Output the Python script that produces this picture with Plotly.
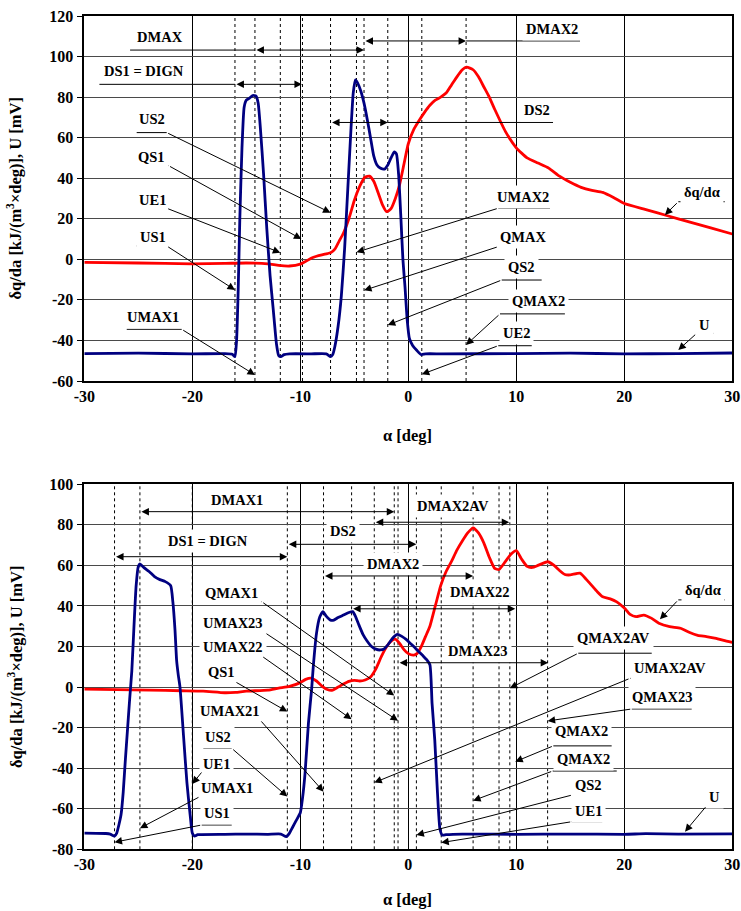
import plotly.graph_objects as go

# ---------------- data ----------------
top_red_x = [-30, -25, -20, -17, -15, -13, -12, -11, -10, -9.5, -9, -8.5, -8, -7.5, -7.2, -6.8, -6.4, -6, -5.5, -5,
             -4.5, -4, -3.6, -3.2, -2.8, -2.4, -2.0, -1.6, -1.2, -0.8, -0.4, 0, 0.5, 1, 1.5, 2, 2.5, 3, 3.5, 4,
             4.5, 5, 5.4, 6, 6.5, 7, 7.5, 8, 9, 10, 11, 12, 13, 14, 15, 16, 17, 18, 19, 20, 22, 24, 26, 28, 30]
top_red_y = [-1.5, -1.8, -2.2, -2.0, -1.8, -2.2, -3.0, -3.3, -2.4, -1, 0.5, 1.5, 2.2, 2.8, 3.2, 5, 9, 13, 20, 29,
             36, 40.5, 41, 38.5, 33, 27, 23.5, 25, 30, 37, 47, 57, 64, 68.5, 72.5, 76, 78.5, 80, 82, 86,
             90, 93.5, 94.8, 93.5, 90, 85, 80, 74, 63, 55, 50, 47.5, 45, 41, 38, 35.5, 34, 33, 30.5, 27.5, 24.5, 21.5, 18.5, 15.5, 12.5]

top_blue_x = [-30, -25, -20, -17, -16.3, -16.05, -15.9, -15.75, -15.6, -15.4, -15.2, -15.0, -14.7, -14.4, -14.1, -13.9,
              -13.7, -13.4, -13.1, -12.8, -12.5, -12.2, -12.0, -11.8, -11.5, -11, -9, -7.6, -7.2, -7.0, -6.8, -6.5,
              -6.2, -5.9, -5.6, -5.3, -5.1, -4.9, -4.7, -4.4, -4.1, -3.8, -3.5, -3.2, -2.9, -2.6, -2.2, -1.9, -1.6,
              -1.3, -1.1, -0.9, -0.7, -0.5, -0.3, -0.1, 0.1, 0.4, 0.8, 1.2, 1.6, 3, 10, 15, 20, 25, 30]
top_blue_y = [-46.5, -46.3, -46.6, -46.5, -46.8, -48, -40, -15, 20, 55, 75, 78.5, 79.5, 80.8, 80.5, 77,
              65, 42, 15, -8, -25, -42, -47.5, -48, -47, -46.6, -46.6, -46.6, -48, -47, -43, -33,
              -18, 5, 35, 65, 82, 88.5, 87, 83, 77, 69, 60, 51, 46.5, 45, 44.5, 46.5, 50,
              53, 52, 42, 22, 0, -14, -30, -39, -42.5, -45, -47, -46.6, -46.6, -46.5, -46.3, -46.6, -46.5, -46.2]

bot_red_x = [-30, -27, -24, -21, -19, -17, -16, -15, -13, -12, -11, -10, -9.5, -9.0, -8.5, -8, -7.5, -7, -6.5, -6,
             -5.5, -5, -4.5, -4, -3.5, -3.0, -2.5, -2, -1.5, -1.2, -0.8, -0.4, 0, 0.5, 0.8, 1.2, 1.6, 2.0, 2.5, 3.0,
             3.5, 4, 4.5, 5, 5.5, 6, 6.5, 7, 7.5, 8, 8.4, 9, 9.5, 10, 10.5, 11, 11.5, 12, 12.9, 13.5, 14, 14.5, 15,
             15.9, 16.5, 17, 17.5, 18, 18.7, 19.3, 20, 20.5, 21.1, 21.8, 22.5, 23.2, 24.2, 25.2, 26, 26.8, 27.6,
             28.5, 29.2, 30]
bot_red_y = [-1, -1.3, -1.5, -1.8, -2, -2.8, -2.6, -2, -1.5, -0.5, 0.3, 2.2, 3.8, 4.4, 3, 0.5, -1.2, -1.5, 0, 1.5,
             2.8, 3.3, 3, 3.5, 5, 9, 15, 20, 23, 23.6, 21.5, 18.5, 16.5, 15.8, 16.5, 20, 25, 30, 40, 50,
             57, 62, 67.5, 72, 76, 78.5, 76, 71, 64, 58.5, 58, 62, 65.5, 67.3, 63, 59.5, 59, 60, 61.8, 60, 57.5, 55.5, 55.3,
             56.2, 53, 50, 47, 44.5, 43.5, 42, 39, 36, 34.7, 35.5, 34, 31.5, 29.8, 29, 27, 25.5, 24.9,
             24, 23, 22]

bot_blue_x = [-30, -28, -27.6, -27.2, -27.0, -26.8, -26.6, -26.4, -26.2, -26.0, -25.8, -25.6, -25.4, -25.2, -25.0,
              -24.85, -24.5, -24, -23.5, -23.0, -22.5, -22.0, -21.8, -21.6, -21.45, -21.3, -21.14, -20.8, -20.5,
              -20.2, -20.0, -19.8, -19.5, -17, -15, -13, -11.8, -11.3, -11.0, -10.7, -10.4, -10.0, -9.8, -9.56,
              -9.25, -8.95, -8.8, -8.5, -8.2, -7.9, -7.6, -7.2, -6.9, -6.5, -6.0, -5.5, -5.15, -4.9, -4.6, -4.2,
              -3.85, -3.4, -3.0, -2.6, -2.2, -1.8, -1.4, -1.0, -0.6, -0.2, 0.2, 0.6, 1.0, 1.4, 1.7, 2.0, 2.2,
              2.45, 2.7, 2.93, 3.15, 3.5, 5, 10, 15, 20, 22, 25, 30]
bot_blue_y = [-72, -72.2, -72.5, -73.5, -72, -68, -63, -52, -36, -21, -6, 8, 30, 50, 59.5,
              60.7, 59, 57, 54.5, 53, 52, 50, 42, 28, 13, 6, 0, -25, -47,
              -63, -72, -73.5, -72.8, -72.6, -72.5, -72.6, -72.5, -73.8, -72, -69, -66, -62, -55, -42.5,
              -18, -1, 10, 26.5, 34.5, 37.2, 35, 33, 33, 34.3, 35.5, 36.8, 37.2, 35, 31, 26,
              23, 20, 18.7, 18.3, 19, 21.5, 24.5, 26, 25, 23.5, 21.5, 19.5, 17.3, 15.2, 13.5, 11, -8,
              -26, -52, -70, -73, -72.8, -72.5, -72.6, -72.5, -72.6, -72.3, -72.5, -72.4]

x_ticks = [-30, -20, -10, 0, 10, 20, 30]
x_tick_labels = ["-30", "-20", "-10", "0", "10", "20", "30"]
top_y_ticks = [-60, -40, -20, 0, 20, 40, 60, 80, 100, 120]
top_y_tick_labels = ["-60", "-40", "-20", "0", "20", "40", "60", "80", "100", "120"]
bot_y_ticks = [-80, -60, -40, -20, 0, 20, 40, 60, 80, 100]
bot_y_tick_labels = ["-80", "-60", "-40", "-20", "0", "20", "40", "60", "80", "100"]

top_dotted_x = [-16.05, -14.2, -11.85, -9.8, -7.2, -4.8, -4.1, -1.9, 1.25, 5.35]
bot_dotted_x = [-27.2, -24.85, -20.0, -11.2, -7.85, -5.25, -3.15, -1.3, -0.95, 0.75, 3.05, 6.0, 8.4, 9.4, 12.9]

# dimension lines: label, label x, label y, x start, x end, line y, extension end (or None)
top_dims = [
    ("DMAX", -23.0, 109.8, -14.2, -4.1, 103.2, -25.76),
    ("DMAX2", 13.3, 113.4, -4.1, 5.35, 107.7, 15.9),
    ("DS1 = DIGN", -24.5, 92.9, -16.05, -9.85, 86.3, -28.6),
    ("DS2", 11.9, 73.6, -7.2, -1.9, 67.5, 13.4),
]
bot_dims = [
    ("DMAX1", -15.9, 92.3, -24.85, -1.3, 86.5, None),
    ("DMAX2AV", 4.1, 89.3, -3.15, 9.35, 81.3, None),
    ("DS2", -6.02, 77.0, -11.2, 0.75, 70.4, None),
    ("DS1 = DIGN", -18.52, 72.0, -27.2, -11.2, 64.3, None),
    ("DMAX2", -1.39, 60.7, -7.85, 6.0, 54.8, None),
    ("DMAX22", 6.64, 46.9, -5.25, 9.9, 38.6, None),
    ("DMAX23", 6.41, 17.8, -0.95, 12.95, 12.0, None),
]

# leader labels: label, text x, text y, underline x0, underline x1, underline y, leader side, tip x, tip y
top_leaders = [
    ("US2", -23.76, 69.1, -25.15, -22.37, 62.5, "r", -7.2, 23.0),
    ("QS1", -23.76, 50.6, -25.15, -22.2, 46.2, "r", -9.9, 10.0),
    ("UE1", -23.64, 29.3, -25.15, -22.37, 25.2, "r", -11.85, 3.3),
    ("US1", -23.64, 11.2, -25.15, -22.37, 6.6, "r", -16.05, -15.1),
    ("UMAX1", -23.64, -28.3, -26.07, -20.98, -34.5, "r", -14.2, -57.0),
    ("UMAX2", 10.65, 30.6, 8.33, 13.12, 25.2, "l", -4.8, 3.5),
    ("QMAX", 10.65, 11.2, 8.33, 12.96, 6.25, "l", -4.1, -15.3),
    ("QS2", 10.5, -3.9, 8.65, 12.35, -10.2, "l", -1.9, -32.4),
    ("QMAX2", 12.04, -20.4, 8.49, 14.5, -26.9, "l", 5.35, -42.2),
    ("UE2", 10.03, -36.2, 8.33, 11.43, -42.6, "l", 1.25, -56.7),
    ("δq/dα", 27.17, 33.4, 25.0, 29.3, 28.4, "l", 23.76, 21.9),
    ("U", 27.47, -32.4, 26.7, 28.24, -36.5, "l", 25.0, -44.7),
]
bot_leaders = [
    ("QMAX1", -16.35, 46.5, -18.92, -13.57, 42.1, "r", -1.3, -4.2),
    ("UMAX23", -16.2, 31.5, -18.82, -13.27, 26.8, "r", -0.95, -16.6),
    ("UMAX22", -16.2, 19.6, -18.98, -13.57, 15.3, "r", -5.25, -15.9),
    ("QS1", -17.28, 7.3, -18.82, -16.05, 2.7, "r", -11.2, -12.1),
    ("UMAX21", -16.51, -11.8, -19.28, -13.73, -16.2, "r", -7.85, -51.6),
    ("US2", -17.6, -24.8, -18.98, -16.35, -30.2, "r", -11.2, -54.0),
    ("UE1", -17.74, -37.9, -19.04, -16.35, -41.4, "l", -20.0, -47.8),
    ("UMAX1", -16.81, -49.9, -19.29, -14.5, -54.0, "l", -24.85, -69.6),
    ("US1", -17.74, -62.2, -19.13, -16.35, -68.0, "l", -27.2, -76.5),
    ("QMAX2AV", 18.98, 24.1, 15.74, 22.54, 16.7, "l", 9.4, -0.6),
    ("UMAX2AV", 24.23, 9.3, 20.53, 27.63, 4.3, "l", -3.15, -47.1),
    ("QMAX23", 23.46, -4.7, 20.69, 26.24, -10.8, "l", 12.9, -16.7),
    ("QMAX2", 16.06, -21.5, 13.43, 18.83, -29.0, "l", 9.9, -36.8),
    ("QMAX2", 16.2, -35.5, 13.37, 19.3, -41.4, "l", 6.0, -56.0),
    ("QS2", 16.67, -48.3, 15.19, 17.96, -53.2, "l", 0.75, -72.9),
    ("UE1", 16.67, -60.9, 15.13, 17.96, -66.4, "l", 3.05, -76.7),
    ("δq/dα", 27.31, 47.9, 25.0, 29.32, 43.0, "l", 23.3, 33.4),
    ("U", 28.33, -54.0, 27.63, 29.02, -58.5, "l", 25.62, -71.3),
]

y_title = "δq/da [kJ/(m<sup>3</sup>×deg)], U [mV]"
x_title = "α [deg]"

# ---------------- figure ----------------
FONT = "Liberation Serif"
RED = "#ff0000"
BLUE = "#000080"
W, H = 741, 911

fig = go.Figure()
for xs, ys, col, xa, ya in ((top_red_x, top_red_y, RED, "x", "y"), (top_blue_x, top_blue_y, BLUE, "x", "y"),
                            (bot_red_x, bot_red_y, RED, "x2", "y2"), (bot_blue_x, bot_blue_y, BLUE, "x2", "y2")):
    fig.add_trace(go.Scatter(x=xs, y=ys, mode="lines",
                             line=dict(color=col, width=2.8, shape="spline", smoothing=0.5),
                             xaxis=xa, yaxis=ya, showlegend=False, hoverinfo="skip"))

xdom = [84.3 / W, 732.3 / W]
top_dom = [1 - 381 / H, 1 - 16 / H]
bot_dom = [1 - 849.3 / H, 1 - 484.3 / H]
tickfont = dict(family=FONT, size=16, color="black", weight="bold")

def xax(anchor):
    return dict(domain=xdom, range=[-30, 30], anchor=anchor, tickvals=x_ticks, ticktext=x_tick_labels,
                showgrid=True, gridcolor="black", gridwidth=1, zeroline=False, showline=True,
                linecolor="black", linewidth=1.5, mirror=True, ticks="", tickfont=tickfont, automargin=False)

def yax(anchor, dom, rng, tv, tt):
    return dict(domain=dom, range=rng, anchor=anchor, tickvals=tv, ticktext=tt,
                showgrid=True, gridcolor="#4a4a4a", gridwidth=1.2, zeroline=False, showline=True,
                linecolor="black", linewidth=1.5, mirror=True, ticks="outside", ticklen=6, tickcolor="black",
                tickfont=tickfont, automargin=False)

fig.update_layout(
    width=W, height=H, margin=dict(l=0, r=0, t=0, b=0),
    paper_bgcolor="white", plot_bgcolor="white", template="none", showlegend=False,
    xaxis=xax("y"), yaxis=yax("x", top_dom, [-60, 120], top_y_ticks, top_y_tick_labels),
    xaxis2=xax("y2"), yaxis2=yax("x2", bot_dom, [-80, 100], bot_y_ticks, bot_y_tick_labels),
)

shapes = []
for xr, yr, xs in (("x", "y", top_dotted_x), ("x2", "y2", bot_dotted_x)):
    for xv in xs:
        shapes.append(dict(type="line", xref=xr, yref=yr + " domain", x0=xv, x1=xv, y0=0, y1=1,
                           line=dict(color="black", width=1, dash="dot"), layer="below"))

# plain lines (underlines and extensions) as shapes drawn above the data
def plain_line(xr, yr, x0, y0, x1, y1):
    return dict(type="line", xref=xr, yref=yr, x0=x0, y0=y0, x1=x1, y1=y1,
                line=dict(color="black", width=1), layer="above")

lab_font = dict(family=FONT, size=14.5, color="black")
text_anns = []
arrow_anns = []

def arrow_ann(xr, yr, x0, y0, x1, y1, both=False):
    d = dict(xref=xr, yref=yr, axref=xr, ayref=yr, x=x1, y=y1, ax=x0, ay=y0, text="",
             showarrow=True, arrowhead=2, arrowsize=1.5, arrowwidth=1, arrowcolor="black",
             standoff=0, startstandoff=0, font=dict(size=1))
    if both:
        d["arrowside"] = "end+start"
        d["startarrowhead"] = 2
        d["startarrowsize"] = 1.5
    return d

for xr, yr, dims in (("x", "y", top_dims), ("x2", "y2", bot_dims)):
    for lab, lx, ly, xa, xb, yl, ext in dims:
        text_anns.append(dict(xref=xr, yref=yr, x=lx, y=ly, text="<b>" + lab + "</b>", showarrow=False,
                              font=lab_font, bgcolor="white", borderpad=3, xanchor="center", yanchor="middle"))
        arrow_anns.append(arrow_ann(xr, yr, xa, yl, xb, yl, both=True))
        if ext is not None:
            near = xa if abs(ext - xa) < abs(ext - xb) else xb
            shapes.append(plain_line(xr, yr, ext, yl, near, yl))

for xr, yr, leaders in (("x", "y", top_leaders), ("x2", "y2", bot_leaders)):
    for lab, tx, ty, u0, u1, uy, side, px, py in leaders:
        text_anns.append(dict(xref=xr, yref=yr, x=tx, y=ty, text="<b>" + lab + "</b>", showarrow=False,
                              font=lab_font, bgcolor="white", borderpad=3, xanchor="center", yanchor="middle"))
        shapes.append(plain_line(xr, yr, u0, uy, u1, uy))
        sx = u1 if side == "r" else u0
        arrow_anns.append(arrow_ann(xr, yr, sx, uy, px, py))

title_font = dict(family=FONT, size=16.5, color="black")
axis_titles = [
    dict(xref="paper", yref="paper", x=15 / W, y=1 - 198.5 / H, text="<b>" + y_title + "</b>", textangle=-90,
         showarrow=False, font=title_font, xanchor="center", yanchor="middle"),
    dict(xref="paper", yref="paper", x=15 / W, y=1 - 667 / H, text="<b>" + y_title + "</b>", textangle=-90,
         showarrow=False, font=title_font, xanchor="center", yanchor="middle"),
    dict(xref="paper", yref="paper", x=407.5 / W, y=1 - 435 / H, text="<b>" + x_title + "</b>",
         showarrow=False, font=title_font, xanchor="center", yanchor="middle"),
    dict(xref="paper", yref="paper", x=407.5 / W, y=1 - 899 / H, text="<b>" + x_title + "</b>",
         showarrow=False, font=title_font, xanchor="center", yanchor="middle"),
]

fig.update_layout(shapes=shapes, annotations=text_anns + arrow_anns + axis_titles)
fig.write_html("out.html")
